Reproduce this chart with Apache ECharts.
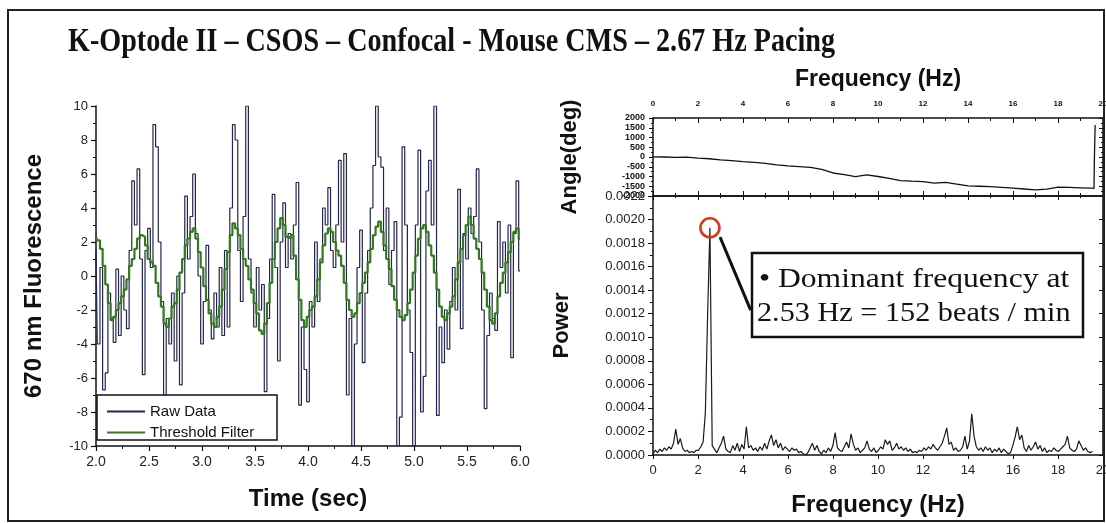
<!DOCTYPE html>
<html>
<head>
<meta charset="utf-8">
<script src="https://cdn.jsdelivr.net/npm/echarts@6/dist/echarts.min.js"></script>
<style>
  html, body { margin: 0; padding: 0; background: #fff; }
  #chart { width: 1106px; height: 523px; }
</style>
</head>
<body>
<div id="chart"></div>
<script>
// ---- Time-domain recording (2.0 s to 6.0 s, 40 samples per second) ----
const timeStart = 2.0;
const sampleInterval = 0.025;

const rawData = [
  1.5, -4.0, 0.5, -6.7, -5.7, -1.0, -2.5, -3.9, 0.4, -3.5,
  0.0, -2.0, -3.1, 1.5, 5.6, 3.0, 6.3, 1.0, -5.8, 1.5,
  2.8, 0.5, 8.9, 7.6, 2.0, -1.5, -7.0, -2.5, -4.0, -1.0,
  -5.0, 0.0, -6.4, -1.0, 4.7, 1.0, 3.5, 6.0, 2.5, 0.0,
  -4.0, -1.5, 1.8, -2.0, -3.7, -1.0, -3.0, 0.5, -3.5, 1.5,
  -3.0, 4.0, 8.9, 8.0, 1.5, -1.5, 3.5, 10.0, 1.0, -1.0,
  -3.0, 0.5, -2.0, -0.5, -6.8, -2.5, 1.0, 4.8, 0.5, -5.0,
  2.0, 4.3, 0.5, 2.5, 1.0, 3.0, 5.5, -7.6, -3.0, -5.5,
  -7.4, -1.5, -3.0, 2.0, -1.5, 1.0, 4.0, 3.0, 5.2, 1.5,
  0.5, 3.0, 6.8, 2.0, 7.2, -7.0, -2.5, -10.0, -4.0, 0.5,
  2.7, -5.1, -1.0, 1.5, 4.0, 6.5, 10.0, 7.0, 6.4, 1.5,
  4.0, -0.5, 1.5, 3.2, -10.0, -8.3, 7.6, 3.0, -2.0, -4.5,
  -10.0, 3.0, 7.4, -8.0, -5.9, 5.0, 6.8, 3.0, 10.0, -8.2,
  -3.0, -5.1, -2.0, -4.3, -1.5, 0.5, -2.0, 5.1, -3.1, 2.5,
  1.0, 4.0, 2.5, 3.5, 6.3, 2.0, -2.0, -7.8, -3.5, -1.0,
  -2.5, -3.2, 3.2, 0.5, 2.0, -1.0, 3.0, -4.8, 2.5, 5.6,
  0.3
];

const thresholdFilter = [
  2.3, 2.1, 1.6, 0.6, -0.5, -1.6, -2.6, -2.4, -2.0, -1.6,
  -1.2, -0.8, -0.2, 0.6, 1.0, 1.6, 2.2, 2.4, 2.3, 1.8,
  1.0, 0.8, 0.6, -0.4, -1.2, -1.8, -2.8, -3.0, -2.5, -1.8,
  -1.6, -0.8, 0.2, 1.0, 1.8, 2.2, 2.6, 2.8, 2.2, 1.4,
  0.5, -0.6, -1.4, -2.2, -2.8, -3.0, -2.4, -1.8, -0.8, 0.4,
  1.4, 2.4, 3.1, 2.8, 2.4, 1.6, 1.0, 0.6, -0.2, -0.8,
  -1.6, -2.2, -3.2, -3.4, -2.8, -1.6, -0.4, 1.0, 2.0, 2.8,
  3.4, 3.0, 2.3, 2.2, 2.4, 1.2, -0.2, -1.4, -2.6, -3.0,
  -2.4, -2.0, -1.8, -1.2, -0.2, 0.8, 1.8, 2.5, 2.8, 2.6,
  2.0, 1.5, 1.2, 0.6, -0.4, -1.4, -2.0, -2.4, -2.2, -1.6,
  -1.0, -0.4, 0.2, 0.8, 1.6, 2.4, 2.9, 3.2, 2.6, 1.8,
  1.0, 0.4, -0.6, -1.4, -2.0, -2.4, -2.6, -2.3, -1.6, -0.8,
  0.2, 1.2, 2.2, 2.8, 3.0, 2.6, 1.8, 1.2, 0.2, -0.8,
  -1.8, -2.4, -2.6, -2.2, -1.8, -1.2, -0.2, 0.8, 1.6, 2.4,
  3.0, 3.5, 3.0, 2.2, 1.6, 1.0, 0.2, -0.8, -1.8, -2.6,
  -2.8, -2.2, -1.2, -0.4, 0.2, 0.8, 1.4, 2.0, 2.6, 2.8,
  2.2
];

// ---- Power spectrum (frequency resolution 0.1012 Hz) ----
const freqResolution = 0.1012;
const powerSpectrum = [
  0.00001, 0.00004, 0.00002, 0.00005, 0.00003, 0.00006, 0.00004, 0.00007, 0.00005, 0.00010,
  0.00022, 0.00009, 0.00014, 0.00006, 0.00003, 0.00004, 0.00002, 0.00003, 0.00002, 0.00004,
  0.00004, 0.00007, 0.00011, 0.00036, 0.00120, 0.00193, 0.00008, 0.00005, 0.00002, 0.00006,
  0.00010, 0.00016, 0.00005, 0.00003, 0.00002, 0.00008, 0.00004, 0.00010, 0.00003, 0.00009,
  0.00005, 0.00024, 0.00006, 0.00008, 0.00004, 0.00006, 0.00003, 0.00007, 0.00004, 0.00010,
  0.00005, 0.00012, 0.00017, 0.00008, 0.00013, 0.00006, 0.00010, 0.00004, 0.00007, 0.00005,
  0.00003, 0.00006, 0.00004, 0.00005, 0.00002, 0.00003, 0.00001, 0.00000, 0.00002, 0.00006,
  0.00010, 0.00004, 0.00008, 0.00003, 0.00001, 0.00004, 0.00002, 0.00006, 0.00003, 0.00008,
  0.00019, 0.00006, 0.00004, 0.00003, 0.00007, 0.00011, 0.00006, 0.00018, 0.00009, 0.00004,
  0.00006, 0.00002, 0.00004, 0.00006, 0.00012, 0.00005, 0.00003, 0.00006, 0.00002, 0.00004,
  0.00007, 0.00005, 0.00013, 0.00009, 0.00012, 0.00004, 0.00006, 0.00010, 0.00005, 0.00007,
  0.00004, 0.00006, 0.00003, 0.00005, 0.00002, 0.00003, 0.00002, 0.00004, 0.00003, 0.00006,
  0.00004, 0.00007, 0.00005, 0.00009, 0.00006, 0.00004, 0.00007, 0.00010, 0.00016, 0.00023,
  0.00009, 0.00011, 0.00004, 0.00006, 0.00003, 0.00004, 0.00007, 0.00016, 0.00005, 0.00012,
  0.00035, 0.00016, 0.00007, 0.00004, 0.00006, 0.00003, 0.00007, 0.00004, 0.00006, 0.00002,
  0.00005, 0.00003, 0.00006, 0.00002, 0.00005, 0.00003, 0.00001, 0.00002, 0.00008, 0.00015,
  0.00024, 0.00013, 0.00017, 0.00006, 0.00003, 0.00008, 0.00004, 0.00007, 0.00011, 0.00005,
  0.00008, 0.00003, 0.00006, 0.00002, 0.00004, 0.00003, 0.00006, 0.00004, 0.00003, 0.00005,
  0.00007, 0.00009, 0.00016, 0.00006, 0.00004, 0.00003, 0.00005, 0.00012, 0.00008, 0.00004,
  0.00006, 0.00003, 0.00002, 0.00003
];

// ---- Phase angle of the spectrum ----
const angleFreq = [
  0, 0.5, 1, 1.5, 2, 2.5, 3, 3.5, 4, 4.5, 5, 5.5, 6, 6.5, 7, 7.5, 8, 8.5, 9, 9.5,
  10, 10.5, 11, 11.5, 12, 12.5, 13, 13.5, 14, 14.5, 15, 15.5, 16, 16.5, 17, 17.5,
  18, 18.5, 19, 19.5, 19.6, 19.62, 19.65
];
const angleDeg = [
  10, 0, -20, -10, -60, -90, -150, -190, -240, -280, -325, -400, -460, -490, -530, -640, -820, -900, -1010, -920,
  -1000, -1100, -1210, -1240, -1265, -1340, -1300, -1390, -1480, -1500, -1520, -1560, -1600, -1640, -1690, -1650,
  -1540, -1560, -1580, -1600, -1610, 20, 1640
];

// ---- Tick ranges ----
const timeTicks = { min: 2.0, max: 6.0, step: 0.5 };
const fluorTicks = { min: -10, max: 10, step: 2 };
const freqTicks = { min: 0, max: 20, step: 2 };
const angleTicks = { min: -2000, max: 2000, step: 500 };
const powerTicks = { min: 0, max: 0.0022, step: 0.0002 };

const SANS = '"Liberation Sans", Arial, Helvetica, sans-serif';
const SERIF = '"Liberation Serif", "Times New Roman", serif';
const INK = '#111';
const RAW_COLOR = '#23264f';
const FILTER_COLOR = '#34791f';

const rawSeries = rawData.map((v, i) => [timeStart + i * sampleInterval, v]);
const filterSeries = thresholdFilter.map((v, i) => [timeStart + i * sampleInterval, v]);
const powerSeries = powerSpectrum.map((v, i) => [+(i * freqResolution).toFixed(4), v]);
const angleSeries = angleDeg.map((v, i) => [angleFreq[i], v]);

// dominant peak of the spectrum
let peakIdx = 0;
powerSpectrum.forEach((v, i) => { if (v > powerSpectrum[peakIdx]) peakIdx = i; });
const dominantFreq = powerSeries[peakIdx][0];
const dominantPower = powerSeries[peakIdx][1];
const beatsPerMin = Math.round(dominantFreq * 60);

function axisLine(w) { return { show: true, onZero: false, lineStyle: { color: INK, width: w || 1.5 } }; }

const option = {
  animation: false,
  backgroundColor: '#fff',
  grid: [
    { left: 96, top: 106, width: 424, height: 340, outerBoundsMode: 'none' },
    { left: 653, top: 118, width: 450, height: 78, outerBoundsMode: 'none' },
    { left: 653, top: 196, width: 450, height: 259, outerBoundsMode: 'none' }
  ],
  legend: {
    left: 101, top: 399, orient: 'vertical',
    itemWidth: 38, itemHeight: 14, itemGap: 6,
    itemStyle: { opacity: 0 },
    textStyle: { fontFamily: SANS, fontSize: 15, color: INK },
    data: ['Raw Data', 'Threshold Filter']
  },
  xAxis: [
    { // time axis
      gridIndex: 0, type: 'value', min: timeTicks.min, max: timeTicks.max, interval: timeTicks.step,
      name: 'Time (sec)', nameLocation: 'middle', nameGap: 41,
      nameTextStyle: { fontFamily: SANS, fontSize: 24, fontWeight: 'bold', color: INK },
      axisLine: axisLine(1.5),
      axisTick: { show: true, inside: false, length: 5, lineStyle: { color: INK, width: 1.2 } },
      minorTick: { show: true, splitNumber: 2, length: 3, lineStyle: { color: INK, width: 1 } },
      axisLabel: { fontFamily: SANS, fontSize: 14, color: '#222', margin: 9, formatter: v => v.toFixed(1) },
      splitLine: { show: false }
    },
    { // frequency axis above the angle panel
      gridIndex: 1, type: 'value', position: 'top', min: freqTicks.min, max: freqTicks.max, interval: freqTicks.step,
      name: 'Frequency (Hz)', nameLocation: 'middle', nameGap: 27,
      nameTextStyle: { fontFamily: SANS, fontSize: 23, fontWeight: 'bold', color: INK },
      axisLine: axisLine(1.5),
      axisTick: { show: true, inside: true, length: 5, lineStyle: { color: INK } },
      minorTick: { show: true, splitNumber: 2, length: 3, lineStyle: { color: INK } },
      axisLabel: { fontFamily: SANS, fontSize: 8, fontWeight: 'bold', color: INK, margin: 10 },
      splitLine: { show: false }
    },
    { // bottom edge of the angle panel
      gridIndex: 1, type: 'value', position: 'bottom', min: freqTicks.min, max: freqTicks.max, interval: freqTicks.step,
      axisLine: axisLine(1.5),
      axisTick: { show: true, inside: true, length: 5, lineStyle: { color: INK } },
      minorTick: { show: true, splitNumber: 2, length: 3, lineStyle: { color: INK } },
      axisLabel: { show: false }, splitLine: { show: false }
    },
    { // frequency axis of the power panel
      gridIndex: 2, type: 'value', position: 'bottom', min: freqTicks.min, max: freqTicks.max, interval: freqTicks.step,
      name: 'Frequency (Hz)', nameLocation: 'middle', nameGap: 38,
      nameTextStyle: { fontFamily: SANS, fontSize: 24, fontWeight: 'bold', color: INK },
      axisLine: axisLine(1.5),
      axisTick: { show: true, inside: false, length: 4, lineStyle: { color: INK } },
      minorTick: { show: false },
      axisLabel: { fontFamily: SANS, fontSize: 13, color: '#222', margin: 9 },
      splitLine: { show: false }
    },
    { // top edge of the power panel
      gridIndex: 2, type: 'value', position: 'top', min: freqTicks.min, max: freqTicks.max, interval: freqTicks.step,
      axisLine: axisLine(1.5),
      axisTick: { show: true, inside: true, length: 4, lineStyle: { color: INK } },
      minorTick: { show: true, splitNumber: 2, length: 2, lineStyle: { color: INK } },
      axisLabel: { show: false }, splitLine: { show: false }
    }
  ],
  yAxis: [
    { // fluorescence
      gridIndex: 0, type: 'value', min: fluorTicks.min, max: fluorTicks.max, interval: fluorTicks.step,
      name: '670 nm Fluorescence', nameLocation: 'middle', nameGap: 50, nameRotate: 90,
      nameTextStyle: { fontFamily: SANS, fontSize: 24, fontWeight: 'bold', color: INK },
      axisLine: axisLine(1.5),
      axisTick: { show: true, inside: false, length: 5, lineStyle: { color: INK, width: 1.2 } },
      minorTick: { show: true, splitNumber: 2, length: 3, lineStyle: { color: INK } },
      axisLabel: { fontFamily: SANS, fontSize: 13, color: '#222', margin: 8 },
      splitLine: { show: false }
    },
    { // angle, left
      gridIndex: 1, type: 'value', position: 'left', min: angleTicks.min, max: angleTicks.max, interval: angleTicks.step,
      name: 'Angle(deg)', nameLocation: 'middle', nameGap: 72, nameRotate: 90,
      nameTextStyle: { fontFamily: SANS, fontSize: 22, fontWeight: 'bold', color: INK },
      axisLine: axisLine(1.5),
      axisTick: { show: true, inside: false, length: 4, lineStyle: { color: INK } },
      minorTick: { show: true, splitNumber: 2, length: 2, lineStyle: { color: INK } },
      axisLabel: { fontFamily: SANS, fontSize: 9, fontWeight: 'bold', color: INK, margin: 8, formatter: v => String(v) },
      splitLine: { show: false }
    },
    { // angle, right edge
      gridIndex: 1, type: 'value', position: 'right', min: angleTicks.min, max: angleTicks.max, interval: angleTicks.step,
      axisLine: axisLine(1.5),
      axisTick: { show: true, inside: true, length: 4, lineStyle: { color: INK } },
      minorTick: { show: true, splitNumber: 2, length: 2, lineStyle: { color: INK } },
      axisLabel: { show: false }, splitLine: { show: false }
    },
    { // power, left
      gridIndex: 2, type: 'value', position: 'left', min: powerTicks.min, max: powerTicks.max, interval: powerTicks.step,
      name: 'Power', nameLocation: 'middle', nameGap: 80, nameRotate: 90,
      nameTextStyle: { fontFamily: SANS, fontSize: 22, fontWeight: 'bold', color: INK },
      axisLine: axisLine(1.5),
      axisTick: { show: true, inside: false, length: 5, lineStyle: { color: INK } },
      minorTick: { show: true, splitNumber: 2, length: 3, lineStyle: { color: INK } },
      axisLabel: { fontFamily: SANS, fontSize: 13, color: '#222', margin: 8, formatter: v => v.toFixed(4) },
      splitLine: { show: false }
    },
    { // power, right edge
      gridIndex: 2, type: 'value', position: 'right', min: powerTicks.min, max: powerTicks.max, interval: powerTicks.step,
      axisLine: axisLine(1.5),
      axisTick: { show: true, inside: true, length: 4, lineStyle: { color: INK } },
      minorTick: { show: false },
      axisLabel: { show: false }, splitLine: { show: false }
    }
  ],
  series: [
    {
      name: 'Raw Data', type: 'line', xAxisIndex: 0, yAxisIndex: 0,
      data: rawSeries, step: 'middle', symbol: 'none',
      lineStyle: { color: RAW_COLOR, width: 1.2 }, itemStyle: { color: RAW_COLOR },
      z: 2
    },
    {
      name: 'Threshold Filter', type: 'line', xAxisIndex: 0, yAxisIndex: 0,
      data: filterSeries, step: 'middle', symbol: 'none',
      lineStyle: { color: FILTER_COLOR, width: 2.2 }, itemStyle: { color: FILTER_COLOR },
      z: 3
    },
    {
      name: 'Angle', type: 'line', xAxisIndex: 1, yAxisIndex: 1,
      data: angleSeries, symbol: 'none',
      lineStyle: { color: INK, width: 1.3 }
    },
    {
      name: 'Power', type: 'line', xAxisIndex: 3, yAxisIndex: 3,
      data: powerSeries, symbol: 'none',
      lineStyle: { color: '#1a1a1a', width: 1.2 },
      markPoint: {
        silent: true,
        symbol: 'circle', symbolSize: 19,
        itemStyle: { color: 'rgba(0,0,0,0)', borderColor: '#d33a22', borderWidth: 2.6 },
        label: { show: false },
        data: [{ coord: [dominantFreq, dominantPower] }]
      },
      markLine: {
        silent: true,
        symbol: ['none', 'arrow'], symbolSize: [0, 13],
        lineStyle: { color: INK, width: 3, type: 'solid' },
        label: { show: false },
        data: [[{ coord: [4.34, 0.00123] }, { coord: [2.98, 0.00185] }]]
      }
    }
  ],
  graphic: [
    { // outer frame
      type: 'rect', shape: { x: 8, y: 10, width: 1096, height: 511 },
      style: { fill: 'none', stroke: '#222', lineWidth: 2 }, z: 10, silent: true
    },
    { // title
      type: 'text', x: 68, y: 42, scaleX: 0.853,
      style: { text: 'K-Optode II \u2013 CSOS \u2013 Confocal - Mouse CMS \u2013 2.67 Hz Pacing',
               font: 'bold 33px ' + SERIF, fill: INK, textVerticalAlign: 'middle', textAlign: 'left' },
      z: 10, silent: true
    },
    { // legend frame
      type: 'rect', shape: { x: 97, y: 395, width: 180, height: 45 },
      style: { fill: '#fff', stroke: INK, lineWidth: 1.5 }, z: 1, silent: true
    },
    { // annotation box
      type: 'rect', shape: { x: 752, y: 253, width: 331, height: 84 },
      style: { fill: '#fff', stroke: INK, lineWidth: 2.5 }, z: 10, silent: true
    },
    {
      type: 'text', x: 759, y: 280, scaleX: 1.17,
      style: { text: '\u2022 Dominant frequency at', font: '27px ' + SERIF, fill: INK,
               textVerticalAlign: 'middle', textAlign: 'left' },
      z: 11, silent: true
    },
    {
      type: 'text', x: 757, y: 314, scaleX: 1.12,
      style: { text: dominantFreq.toFixed(2) + ' Hz = ' + beatsPerMin + ' beats / min', font: '27px ' + SERIF, fill: INK,
               textVerticalAlign: 'middle', textAlign: 'left' },
      z: 11, silent: true
    }
  ]
};

const chart = echarts.init(document.getElementById('chart'), null, { renderer: 'canvas' });
chart.setOption(option);
</script>
</body>
</html>
